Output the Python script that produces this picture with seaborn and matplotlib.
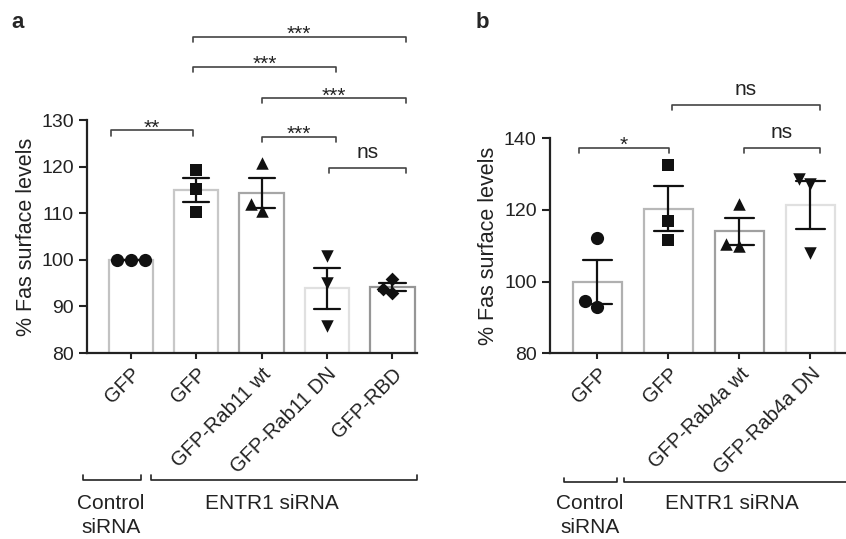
import numpy as np
import pandas as pd
import seaborn as sns
import matplotlib.pyplot as plt
from matplotlib.transforms import blended_transform_factory

sns.set_style('ticks')
plt.rcParams['font.family'] = ['Liberation Sans', 'DejaVu Sans']

# Panel a data (% Fas surface levels, n = 3 each)
conds_a = ['ctrl_GFP', 'GFP', 'Rab11_wt', 'Rab11_DN', 'RBD']
ticks_a = ['GFP', 'GFP', 'GFP-Rab11 wt', 'GFP-Rab11 DN', 'GFP-RBD']
a_ctrl_gfp = [100.0, 100.0, 100.0]
a_gfp = [119.2, 115.3, 110.3]
a_rab11_wt = [120.9, 110.4, 111.9]
a_rab11_dn = [100.8, 95.0, 85.9]
a_rbd = [95.8, 92.9, 93.7]

# Panel b data
conds_b = ['ctrl_GFP', 'GFP', 'Rab4a_wt', 'Rab4a_DN']
ticks_b = ['GFP', 'GFP', 'GFP-Rab4a wt', 'GFP-Rab4a DN']
b_ctrl_gfp = [112.1, 93.0, 94.6]
b_gfp = [132.6, 117.0, 111.5]
b_rab4a_wt = [121.6, 110.0, 110.4]
b_rab4a_dn = [128.7, 127.2, 107.9]

# significance brackets: (x start, x end, height, label)
sig_a = [(-0.3, 0.95, 127.8, '**'),
         (0.95, 4.2, 147.9, '***'),
         (0.95, 3.14, 141.5, '***'),
         (2.0, 4.2, 134.7, '***'),
         (2.0, 3.14, 126.4, '***'),
         (3.03, 4.2, 119.7, 'ns')]
sig_b = [(-0.26, 1.01, 137.4, '*'),
         (1.05, 3.13, 149.2, 'ns'),
         (2.07, 3.13, 137.4, 'ns')]

markers_a = ['o', 's', '^', 'v', 'D']
markers_b = ['o', 's', '^', 'v']
msize = {'o': 9.5, 's': 8.5, '^': 9, 'v': 9, 'D': 7}
edges_a = ['#c2c2c2', '#c8c8c8', '#a6a6a6', '#e0e0e0', '#969696']
edges_b = ['#b0b0b0', '#b8b8b8', '#a0a0a0', '#e0e0e0']

df_a = pd.DataFrame({
    'cond': np.repeat(conds_a, 3),
    'val': a_ctrl_gfp + a_gfp + a_rab11_wt + a_rab11_dn + a_rbd,
})
df_b = pd.DataFrame({
    'cond': np.repeat(conds_b, 3),
    'val': b_ctrl_gfp + b_gfp + b_rab4a_wt + b_rab4a_dn,
})

fig = plt.figure(figsize=(8.46, 5.39), dpi=100)
ax_a = fig.add_axes([0.1028, 0.345, 0.3897, 0.432])
ax_b = fig.add_axes([0.650, 0.3445, 0.350, 0.399])


def draw_panel(ax, df, conds, markers, edges):
    sns.barplot(data=df, x='cond', y='val', hue='cond', order=conds,
                hue_order=conds, palette=edges, fill=False, width=0.68,
                linewidth=1.6, errorbar='se', capsize=0.4,
                err_kws={'color': '#111111', 'linewidth': 1.6},
                legend=False, ax=ax)
    for c, m in zip(conds, markers):
        sub = df[df['cond'] == c]
        sns.swarmplot(data=sub, x='cond', y='val', order=conds,
                      marker=m, color='#111111', size=msize[m], ax=ax)


def sig_bracket(ax, x1, x2, y, label, drop):
    ax.plot([x1, x1, x2, x2], [y - drop, y, y, y - drop], color='#444444',
            lw=1.2, clip_on=False)
    if label == 'ns':
        ax.text((x1 + x2) / 2, y + 2.0 * drop, label, ha='center',
                va='baseline', fontsize=15, color='#222222', clip_on=False)
    else:
        ax.text((x1 + x2) / 2, y - 0.6 * drop, label, ha='center',
                va='baseline', fontsize=15, color='#222222', clip_on=False)


def group_bracket(ax, x1, x2, fy):
    tr = blended_transform_factory(ax.transData, fig.transFigure)
    ax.plot([x1, x1, x2, x2], [fy + 0.009, fy, fy, fy + 0.009],
            color='#222222', lw=1.2, transform=tr, clip_on=False)


def group_text(ax, x, fy, s):
    tr = blended_transform_factory(ax.transData, fig.transFigure)
    ax.text(x, fy, s, transform=tr, ha='center', va='center',
            fontsize=15, color='#222222')


draw_panel(ax_a, df_a, conds_a, markers_a, edges_a)
draw_panel(ax_b, df_b, conds_b, markers_b, edges_b)

for ax, ticks, ylim, yt, xlim in [
        (ax_a, ticks_a, (80, 130), [80, 90, 100, 110, 120, 130], (-0.67, 4.37)),
        (ax_b, ticks_b, (80, 140), [80, 100, 120, 140], (-0.67, 3.5))]:
    ax.set_ylim(*ylim)
    ax.set_yticks(yt)
    ax.set_xlim(*xlim)
    ax.set_xticks(range(len(ticks)))
    ax.set_xticklabels(ticks, rotation=45, ha='right', rotation_mode='anchor')
    ax.set_xlabel('')
    ax.set_ylabel('% Fas surface levels', fontsize=15.5, color='#222222')
    ax.tick_params(width=1.5, colors='#222222')
    ax.tick_params(axis='y', length=6, labelsize=14)
    ax.tick_params(axis='x', length=4.5, labelsize=14.5)
    for s in ['left', 'bottom']:
        ax.spines[s].set_linewidth(1.6)
        ax.spines[s].set_color('#222222')
    sns.despine(ax=ax)

ax_a.yaxis.set_label_coords(-0.153, 0.5)
ax_b.yaxis.set_label_coords(-0.171, 0.5)

for x1, x2, y, lab in sig_a:
    sig_bracket(ax_a, x1, x2, y, lab, 1.1)
for x1, x2, y, lab in sig_b:
    sig_bracket(ax_b, x1, x2, y, lab, 1.4)

# treatment groups under the x labels
group_bracket(ax_a, -0.735, 0.153, 0.1095)
group_bracket(ax_a, 0.306, 4.38, 0.1095)
group_text(ax_a, -0.3, 0.066, 'Control')
group_text(ax_a, -0.3, 0.021, 'siRNA')
group_text(ax_a, 2.16, 0.066, 'ENTR1 siRNA')

group_bracket(ax_b, -0.475, 0.277, 0.105)
group_bracket(ax_b, 0.37, 3.51, 0.105)
group_text(ax_b, -0.11, 0.066, 'Control')
group_text(ax_b, -0.11, 0.021, 'siRNA')
group_text(ax_b, 1.89, 0.066, 'ENTR1 siRNA')

fig.text(0.013, 0.958, 'a', fontsize=16, fontweight='bold', va='center')
fig.text(0.562, 0.958, 'b', fontsize=16, fontweight='bold', va='center')

fig.savefig('out.png', dpi=100)
